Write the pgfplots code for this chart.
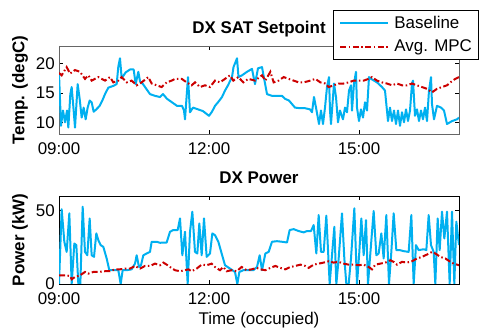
\documentclass[border=0pt]{standalone}
\usepackage{pgfplots}
\pgfplotsset{compat=1.18}
\usepackage{fontspec}
\setmainfont{Liberation Sans}
\definecolor{base}{RGB}{0,176,240}
\definecolor{mpc}{RGB}{204,0,0}
\begin{document}
\begin{tikzpicture}
\useasboundingbox (0bp,0bp) rectangle (482bp,329bp);
\pgfplotsset{
  myaxis/.style={
    scale only axis, width=400bp, height=88bp, anchor=south west,
    xmin=0, xmax=480, xtick={0,180,360}, xticklabels={09:00,12:00,15:00},
    /pgf/number format/assume math mode=true,
    tick align=inside, major tick length=4bp,
    tick style={line width=0.6bp, black},
    axis line style={line width=0.8bp},
    ticklabel style={font=\fontsize{17}{17}\selectfont},
    xticklabel style={inner sep=0bp, yshift=-8bp},
    yticklabel style={inner sep=0bp, xshift=-4bp},
    ylabel style={font=\bfseries\fontsize{17}{17}\selectfont, at={(axis description cs:-0.0865,0.5)}, anchor=base},
    xlabel style={font=\fontsize{17}{17}\selectfont, at={(axis description cs:0.5,0)}, anchor=base, yshift=-40bp},
    title style={font=\bfseries\fontsize{17}{17}\selectfont, at={(axis description cs:0.5,1)}, anchor=base, yshift=7bp},
    legend image code/.code={\draw[##1] (0bp,0bp) -- (48bp,0bp);},
  },
  basestyle/.style={color=base, line width=2bp, line join=round},
  mpcstyle/.style={color=mpc, line width=2bp, dash pattern=on 6bp off 2.5bp on 1.5bp off 2.5bp},
}
\begin{axis}[myaxis, at={(59bp,195bp)},
  ymin=8, ymax=23, ytick={10,15,20},
  axis line style={line width=0.8bp, black!60},
  title={DX SAT Setpoint}, ylabel={Temp. (degC)},
  legend style={at={(rel axis cs:0.685,1.41)}, anchor=north west, draw=black, line width=0.8bp, fill=white,
    font=\fontsize{17}{17}\selectfont, inner xsep=6bp, inner ysep=5bp, row sep=8bp, column sep=4bp,
    nodes={inner sep=1bp}, cells={anchor=west}},
]
\addplot[basestyle] coordinates {
(0,18.3) (2.4,9.4) (4.8,12.0) (7.2,10.0) (9.6,12.0) (11.2,9.1) (13.6,14.8) (15.2,16.0) (17.6,12.0) (19.2,9.1)
(22.4,16.5) (24.8,14.0) (27.2,10.8) (29.6,12.5) (32.0,10.5) (34.4,12.5) (36.8,13.7) (39.2,13.4) (41.6,11.8) (44.8,12.2)
(48.8,12.8) (52.0,13.7) (55.2,14.8) (59.2,15.9) (65.2,16.2) (69.2,16.5) (71.2,19.5) (73.2,20.9) (75.2,17.5) (80.0,18.5)
(85.2,19.0) (89.6,19.0) (92.0,16.5) (95.2,18.6) (97.2,17.0) (100.8,16.5) (109.2,14.8) (115.2,14.5) (121.2,14.3) (124.8,14.8)
(129.6,14.0) (135.6,13.4) (141.6,12.8) (147.6,12.8) (150.0,12.0) (151.2,10.5) (154.8,17.7) (157.2,11.7) (160.8,12.5) (166.8,12.2)
(172.8,11.9) (180.0,11.1) (183.6,11.8) (187.2,12.8) (190.8,13.4) (195.6,14.3) (199.2,15.4) (202.8,16.3) (207.6,17.7) (209.4,19.4)
(213.6,20.9) (215.4,17.7) (219.6,18.0) (225.6,18.6) (231.6,19.1) (235.2,16.5) (238.8,19.2) (243.6,19.4) (249.6,14.8) (255.6,14.5)
(261.6,14.5) (267.6,14.5) (271.2,14.0) (276.0,13.7) (279.6,13.1) (283.2,12.5) (289.2,12.4) (295.2,12.4) (301.2,12.2) (303.6,11.7)
(306.0,14.3) (308.4,12.5) (312.0,9.7) (314.4,12.0) (316.8,9.7) (319.2,12.5) (321.6,16.0) (324.0,17.7) (325.2,12.0) (326.4,9.7)
(330.0,16.6) (332.4,14.3) (334.8,10.0) (337.2,12.0) (340.8,10.5) (343.2,12.5) (345.6,11.7) (348.0,15.4) (350.4,16.3) (351.6,12.0)
(354.0,16.6) (356.4,18.6) (357.6,12.5) (360.0,10.2) (362.4,12.2) (364.8,10.8) (367.2,13.4) (369.6,12.0) (372.0,17.7) (374.4,17.4)
(378.0,17.1) (381.6,16.8) (387.6,16.0) (391.2,15.4) (394.8,10.2) (397.2,12.5) (399.6,10.2) (402.0,12.0) (404.4,9.7) (406.8,12.0)
(409.2,9.4) (411.6,11.7) (414.0,10.0) (416.4,12.2) (418.8,10.2) (421.2,12.0) (423.6,16.6) (424.8,17.1) (427.2,11.1) (429.6,12.2)
(432.0,10.2) (434.4,12.0) (436.8,10.5) (439.2,12.5) (441.6,10.2) (444.0,15.4) (446.4,17.7) (447.6,13.1) (450.0,10.5) (453.6,12.8)
(458.4,12.5) (462.0,12.0) (465.6,9.7) (471.6,10.2) (477.6,10.5) (480,10.8)
};
\addlegendentry{Baseline}
\addplot[mpcstyle] coordinates {
(0,18.4) (3.2,18.0) (9.2,19.4) (13.2,18.3) (19.2,18.9) (25.2,18.6) (31.2,17.4) (35.2,18.0) (39.2,17.1) (47.2,17.7)
(55.2,17.1) (61.2,17.7) (65.2,16.8) (71.2,17.1) (75.2,17.7) (81.2,16.8) (87.2,17.1) (93.2,16.3) (99.2,16.8) (107.2,17.7)
(111.2,16.6) (117.2,16.3) (123.2,16.0) (129.2,16.8) (135.2,17.1) (139.2,17.4) (147.2,17.4) (153.2,16.8) (159.2,16.3) (163.2,16.8)
(169.2,16.0) (175.2,16.3) (181.2,16.0) (187.2,17.1) (193.2,16.8) (199.2,17.4) (205.2,18.0) (209.2,17.1) (215.2,17.7) (221.2,16.8)
(227.2,17.4) (235.2,17.1) (243.6,18.0) (247.6,17.1) (253.6,18.6) (257.6,16.8) (263.6,17.1) (269.6,17.7) (275.6,17.4) (281.6,17.1)
(287.6,16.8) (293.6,16.8) (301.6,17.1) (307.6,17.4) (313.6,16.8) (319.6,16.6) (323.6,16.0) (329.6,16.3) (335.6,16.6) (341.6,16.6)
(347.6,16.8) (353.6,17.1) (359.6,17.1) (365.6,17.1) (371.6,17.4) (375.6,17.7) (381.6,17.1) (387.6,16.8) (393.6,16.6) (399.6,16.3)
(405.6,16.6) (411.6,16.3) (417.6,16.3) (423.6,16.6) (429.6,16.3) (435.6,16.0) (441.6,15.7) (447.6,15.1) (453.6,15.7) (459.6,16.0)
(465.6,16.3) (469.6,16.8) (475.6,17.4) (480,17.7)
};
\addlegendentry{Avg. MPC}
\end{axis}
\begin{axis}[myaxis, at={(59bp,45bp)},
  ymin=0, ymax=60, ytick={0,50},
  axis line style={line width=0.8bp, black},
  title={DX Power}, ylabel={Power (kW)}, xlabel={Time (occupied)},
]
\addplot[basestyle] coordinates {
(0,0) (3.2,51) (6.4,28.8) (9.2,21.9) (12.4,48.2) (15.2,0) (18.4,27.6) (20.8,26.5) (23.2,0) (25.6,0)
(28.4,52.7) (31.2,21.9) (34,19.6) (36.8,44.7) (39.2,19.6) (42,18.5) (44.8,34.5) (47.2,29.9) (50,26.5) (53.2,25.3)
(57.2,17.4) (60.4,9.4) (65.2,9.4) (71.2,9.4) (74,0) (76.4,9.4) (81.2,9.4) (87.2,10) (91.2,13.9) (93.2,19.6)
(96,11.6) (98.4,12.8) (101.2,19.6) (105.2,20.8) (109.2,21.9) (111.2,28.8) (117.2,28.8) (121.2,28.1) (129.2,28.3) (133.2,35.6)
(137.2,36.8) (142.4,36.8) (145.2,44.7) (148,19.6) (151.2,35.6) (154.4,0) (157.2,35.6) (160,49.3) (163.2,21.9) (166,20.8)
(168.4,41.3) (171.2,19.6) (174,44.7) (177.2,18.5) (181.2,20.8) (184,34.5) (187.2,33.3) (191.2,28.8) (195.2,20.8) (199.2,12.8)
(205.2,10.5) (211.2,8.2) (214,0) (216.4,8.2) (221.2,9.4) (227.2,9.4) (233.2,9.4) (237.6,11.6) (240.8,19.6) (243.6,9.4)
(247.6,20.8) (251.6,21.9) (255.6,28.8) (261.6,29.2) (267.6,28.8) (273.6,28.3) (276.8,36.8) (281.6,37.4) (287.6,36.1) (293.6,35.2)
(297.6,36.1) (302.4,36.1) (305.6,40.2) (308.8,20.8) (311.6,47.0) (314.4,21.9) (317.6,21.9) (320.8,46.6) (324.8,0) (327.6,19.6)
(330.4,39) (332.8,0) (335.6,17.4) (339.6,48.2) (342.4,17.4) (344.8,0) (347.6,0) (350.4,17.4) (354.4,51.6) (357.6,0)
(360.4,21.9) (362.8,44.7) (365.6,19.6) (368.4,43.6) (370.8,0) (373.6,20.8) (377.6,49.8) (380.8,19.6) (383.6,20.8) (386.8,34.5)
(389.6,17.4) (392.8,47) (396,0) (398.8,21.9) (401.6,48.2) (404.8,23.1) (408.8,23.1) (413.6,22.4) (419.6,21.9) (422.8,47)
(425.6,0) (428.4,26.5) (431.6,23.1) (437.6,23.7) (440.8,23.1) (443.6,47) (446.4,26.5) (449.6,21.9) (451.6,0) (454.4,44.7)
(456.8,23.1) (459.6,49.3) (462.4,31) (465.6,49.3) (468.8,0) (471.6,49.3) (474.4,0) (476.8,42.5) (480,26.5)
};
\addplot[mpcstyle] coordinates {
(0,5.9) (7.2,5.9) (13.2,5.5) (15.2,3.2) (19.2,4.8) (25.2,5.9) (31.2,8.2) (35.2,7.1) (41.2,8.2) (47.2,8.2)
(55.2,8.7) (61.2,8.7) (67.2,10.0) (73.2,10.0) (79.2,10.5) (85.2,10.5) (91.2,12.3) (97.2,10.5) (103.2,12.3) (109.2,12.3)
(115.2,13.9) (121.2,12.8) (125.2,14.6) (129.2,13.2) (133.2,11.6) (139.2,9.4) (145.2,8.7) (151.2,9.4) (155.2,10.0) (159.2,8.7)
(165.2,10.5) (171.2,13.2) (177.2,12.8) (183.2,13.9) (187.2,11.6) (193.2,9.4) (197.2,11.6) (201.2,8.7) (207.2,9.4) (213.2,8.7)
(219.2,11.6) (225.2,9.4) (231.2,10.0) (237.2,11.0) (241.6,10.0) (247.6,9.4) (253.6,11.0) (259.6,12.3) (265.6,11.0) (271.6,10.0)
(277.6,11.6) (283.6,12.3) (289.6,13.2) (295.6,12.3) (299.6,11.0) (305.6,13.2) (311.6,13.9) (317.6,14.6) (323.6,15.5) (329.6,14.6)
(335.6,15.1) (341.6,13.9) (347.6,13.2) (353.6,13.2) (359.6,12.8) (365.6,13.2) (371.6,11.6) (375.6,10.0) (379.6,13.2) (385.6,13.9)
(391.6,14.6) (397.6,16.2) (401.6,15.1) (405.6,13.2) (411.6,15.1) (417.6,14.6) (423.6,15.5) (429.6,17.4) (435.6,18.5) (441.6,20.1)
(447.6,21.9) (451.6,20.8) (457.6,18.5) (463.6,17.4) (469.6,15.1) (473.6,13.9) (480,12.8)
};
\end{axis}
\end{tikzpicture}
\end{document}
